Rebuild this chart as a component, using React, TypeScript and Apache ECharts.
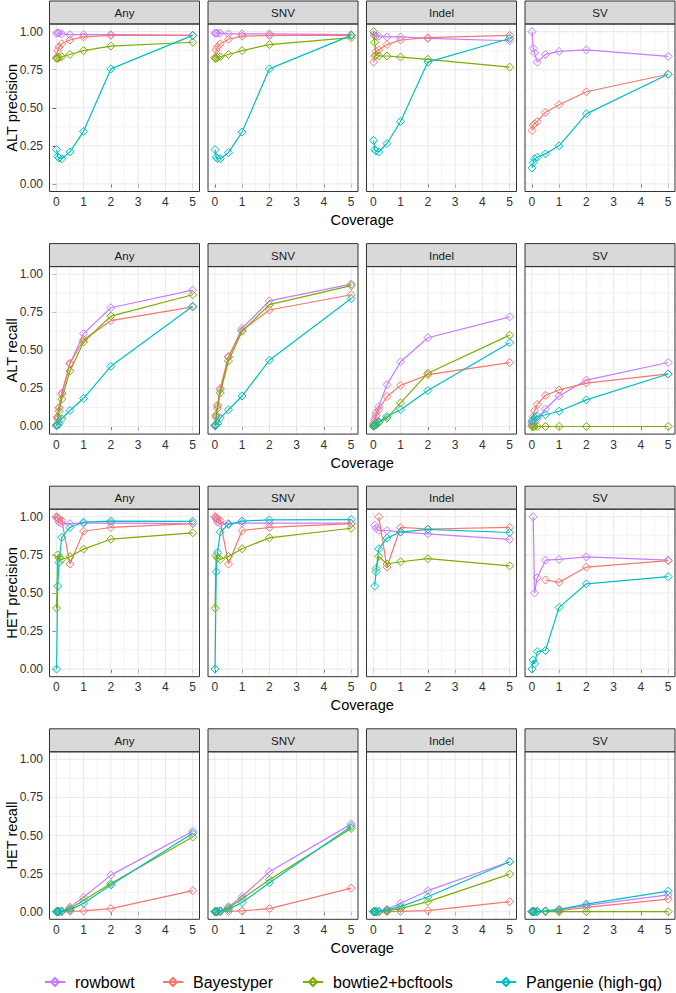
import React, { useEffect, useRef } from 'react';
import * as echarts from 'echarts';

const coverage = [0.01, 0.05, 0.1, 0.2, 0.5, 1, 2, 5];
const methods = ['rowbowt', 'Bayestyper', 'bowtie2+bcftools', 'Pangenie (high-gq)'];
const methodColors = ['#C77CFF', '#F8766D', '#7CAE00', '#00BFC4'];
const variantTypes = ['Any', 'SNV', 'Indel', 'SV'];
const metricLabels = ['ALT precision', 'ALT recall', 'HET precision', 'HET recall'];
const xTicks = [0, 1, 2, 3, 4, 5];
const yTicks = [0, 0.25, 0.5, 0.75, 1];
const xMinor = [0.5, 1.5, 2.5, 3.5, 4.5];
const yMinor = [0.125, 0.375, 0.625, 0.875];

const N = null;
// each panel: one row per method, in the order of `methods`
const altPrecisionAny = [
  [0.99, 0.99, 0.99, 0.985, 0.98, 0.98, 0.98, 0.975],
  [0.83, 0.875, 0.9, 0.92, 0.945, 0.965, 0.975, 0.975],
  [0.825, 0.825, 0.83, 0.835, 0.85, 0.875, 0.905, 0.93],
  [0.225, 0.18, 0.17, 0.165, 0.21, 0.345, 0.755, 0.975],
];
const altPrecisionSNV = [
  [0.99, 0.99, 0.99, 0.99, 0.985, 0.985, 0.985, 0.98],
  [0.83, 0.88, 0.9, 0.92, 0.95, 0.97, 0.975, 0.975],
  [0.825, 0.825, 0.83, 0.835, 0.85, 0.875, 0.915, 0.96],
  [0.225, 0.175, 0.165, 0.165, 0.205, 0.34, 0.755, 0.975],
];
const altPrecisionIndel = [
  [0.98, 0.975, 0.97, 0.97, 0.965, 0.965, 0.955, 0.94],
  [0.8, 0.84, 0.87, 0.88, 0.915, 0.945, 0.96, 0.975],
  [1.0, 0.93, 0.845, 0.84, 0.84, 0.833, 0.818, 0.767],
  [0.285, 0.225, 0.215, 0.21, 0.265, 0.41, 0.8, 0.955],
];
const altPrecisionSV = [
  [1.0, 0.89, 0.86, 0.8, 0.85, 0.87, 0.88, 0.837],
  [0.35, 0.385, 0.395, 0.41, 0.47, 0.52, 0.605, 0.72],
  [N, N, N, N, N, N, N, N],
  [0.105, 0.14, 0.165, 0.175, 0.197, 0.25, 0.46, 0.72],
];
const altRecallAny = [
  [0.01, 0.06, 0.12, 0.21, 0.41, 0.61, 0.78, 0.895],
  [0.01, 0.065, 0.125, 0.22, 0.415, 0.57, 0.695, 0.785],
  [0.005, 0.05, 0.1, 0.18, 0.365, 0.555, 0.725, 0.865],
  [0.005, 0.01, 0.02, 0.05, 0.105, 0.185, 0.395, 0.79],
];
const altRecallSNV = [
  [0.01, 0.07, 0.135, 0.24, 0.455, 0.645, 0.825, 0.935],
  [0.01, 0.075, 0.14, 0.25, 0.46, 0.63, 0.765, 0.865],
  [0.005, 0.06, 0.12, 0.22, 0.43, 0.625, 0.8, 0.925],
  [0.005, 0.01, 0.02, 0.055, 0.11, 0.2, 0.435, 0.84],
];
const altRecallIndel = [
  [0.01, 0.05, 0.09, 0.13, 0.275, 0.425, 0.583, 0.72],
  [0.02, 0.04, 0.07, 0.11, 0.197, 0.27, 0.34, 0.42],
  [0, 0.005, 0.01, 0.025, 0.055, 0.155, 0.35, 0.6],
  [0.005, 0.01, 0.02, 0.03, 0.066, 0.11, 0.236, 0.55],
];
const altRecallSV = [
  [0.01, 0.02, 0.03, 0.05, 0.115, 0.2, 0.305, 0.42],
  [0.025, 0.065, 0.105, 0.145, 0.205, 0.24, 0.285, 0.345],
  [0, 0, 0, 0, 0, 0, 0, 0],
  [0.035, 0.045, 0.06, 0.065, 0.077, 0.1, 0.175, 0.345],
];
const hetPrecisionAny = [
  [1.0, 0.985, 0.965, 0.955, 0.955, 0.958, 0.958, 0.955],
  [1.0, 0.995, 0.985, 0.975, 0.69, 0.905, 0.93, 0.955],
  [0.4, 0.75, 0.73, 0.72, 0.738, 0.788, 0.853, 0.895],
  [0.0, 0.545, 0.7, 0.865, 0.93, 0.965, 0.972, 0.97],
];
const hetPrecisionSNV = [
  [1.0, 0.985, 0.965, 0.955, 0.955, 0.958, 0.958, 0.958],
  [1.0, 0.995, 0.985, 0.975, 0.69, 0.91, 0.93, 0.955],
  [0.4, 0.745, 0.73, 0.72, 0.74, 0.79, 0.862, 0.925],
  [0.0, 0.64, 0.765, 0.9, 0.95, 0.972, 0.98, 0.982],
];
const hetPrecisionIndel = [
  [N, 0.945, 0.925, 0.91, 0.91, 0.9, 0.888, 0.852],
  [N, N, N, 1.0, 0.67, 0.93, 0.92, 0.93],
  [N, N, 0.66, 0.74, 0.69, 0.705, 0.725, 0.678],
  [N, 0.545, 0.64, 0.79, 0.86, 0.9, 0.918, 0.897],
];
const hetPrecisionSV = [
  [N, 1.0, 0.5, 0.6, 0.715, 0.72, 0.737, 0.715],
  [N, N, N, N, 0.585, 0.57, 0.67, 0.712],
  [N, N, N, N, N, N, N, N],
  [0.0, 0.06, 0.035, 0.115, 0.122, 0.405, 0.56, 0.607],
];
const hetRecallAny = [
  [0, 0, 0.002, 0.005, 0.03, 0.095, 0.24, 0.528],
  [0, 0, 0, 0, 0.002, 0.005, 0.02, 0.138],
  [0, 0, 0.001, 0.004, 0.02, 0.075, 0.185, 0.49],
  [0, 0, 0, 0.002, 0.012, 0.055, 0.175, 0.515],
];
const hetRecallSNV = [
  [0, 0, 0.002, 0.006, 0.033, 0.1, 0.262, 0.575],
  [0, 0, 0, 0, 0.002, 0.005, 0.02, 0.155],
  [0, 0, 0.001, 0.005, 0.025, 0.085, 0.21, 0.547],
  [0, 0, 0, 0.003, 0.015, 0.06, 0.19, 0.56],
];
const hetRecallIndel = [
  [0, 0, 0, 0.002, 0.015, 0.055, 0.138, 0.328],
  [0, 0, 0, 0, 0, 0.002, 0.007, 0.066],
  [0, 0, 0, 0.001, 0.005, 0.02, 0.066, 0.247],
  [0, 0, 0, 0.002, 0.01, 0.033, 0.098, 0.328],
];
const hetRecallSV = [
  [0, 0, 0, 0.002, 0.004, 0.012, 0.042, 0.11],
  [0, 0, 0, 0, 0.002, 0.006, 0.028, 0.083],
  [0, 0, 0, 0, 0, 0, 0, 0],
  [0, 0, 0, 0.002, 0.005, 0.015, 0.05, 0.135],
];

const panels = [
  [altPrecisionAny, altPrecisionSNV, altPrecisionIndel, altPrecisionSV],
  [altRecallAny, altRecallSNV, altRecallIndel, altRecallSV],
  [hetPrecisionAny, hetPrecisionSNV, hetPrecisionIndel, hetPrecisionSV],
  [hetRecallAny, hetRecallSNV, hetRecallIndel, hetRecallSV],
];

const FONT = '"Liberation Sans", Arial, Helvetica, sans-serif';
const PANEL_W = 150;
const PANEL_H = 167.5;
const STRIP_H = 23;
const colLeft = (c: number) => 49.5 + 158.5 * c;
const rowTop = (r: number) => 1 + 242.6 * r;
const legendLefts = [44, 162, 302, 495];

function buildOption() {
  const grids: any[] = [];
  const xAxes: any[] = [];
  const yAxes: any[] = [];
  const series: any[] = [];
  const graphics: any[] = [];

  const gridRows: number[][] = [];
  xMinor.forEach((x) => gridRows.push([x, -0.05, x, 1.05, 0.6]));
  yMinor.forEach((y) => gridRows.push([-0.25, y, 5.25, y, 0.6]));
  xTicks.forEach((x) => gridRows.push([x, -0.05, x, 1.05, 1.1]));
  yTicks.forEach((y) => gridRows.push([-0.25, y, 5.25, y, 1.1]));

  for (let r = 0; r < 4; r++) {
    for (let c = 0; c < 4; c++) {
      const i = r * 4 + c;
      const left = colLeft(c);
      const top = rowTop(r) + STRIP_H;
      grids.push({ left, top, width: PANEL_W, height: PANEL_H, show: true, backgroundColor: '#fff', borderWidth: 0 });
      xAxes.push({
        gridIndex: i, type: 'value', min: -0.25, max: 5.25,
        splitLine: { show: false }, axisLine: { show: false },
        axisTick: { show: true, length: 3.7, customValues: xTicks, lineStyle: { color: '#333333', width: 1 } },
        axisLabel: { show: true, customValues: xTicks, margin: 4.5, fontSize: 12, color: '#333333', fontFamily: FONT, formatter: (v: number) => String(Math.round(v)) },
      });
      yAxes.push({
        gridIndex: i, type: 'value', min: -0.05, max: 1.05,
        splitLine: { show: false }, axisLine: { show: false },
        axisTick: { show: c === 0, length: 3.7, customValues: yTicks, lineStyle: { color: '#333333', width: 1 } },
        axisLabel: { show: c === 0, customValues: yTicks, margin: 6.5, fontSize: 12, color: '#333333', fontFamily: FONT, formatter: (v: number) => v.toFixed(2) },
      });
      series.push({
        type: 'custom', xAxisIndex: i, yAxisIndex: i, silent: true, z: 1,
        data: gridRows,
        renderItem: (params: any, api: any) => {
          const p1 = api.coord([api.value(0), api.value(1)]);
          const p2 = api.coord([api.value(2), api.value(3)]);
          return { type: 'line', shape: { x1: p1[0], y1: p1[1], x2: p2[0], y2: p2[1] }, style: { stroke: '#EBEBEB', lineWidth: api.value(4) } };
        },
      });
      const vals = panels[r][c];
      methods.forEach((m, k) => {
        const data = coverage.map((x, j) => [x, vals[k][j]]).filter((p) => p[1] !== null);
        series.push({
          type: 'line', name: m, xAxisIndex: i, yAxisIndex: i, z: 3 + k,
          data, symbol: 'diamond', symbolSize: 8, showSymbol: true, showAllSymbol: true,
          lineStyle: { color: methodColors[k], width: 1.2 },
          itemStyle: { color: 'rgba(0,0,0,0)', borderColor: methodColors[k], borderWidth: 1 },
          emphasis: { disabled: true }, silent: true,
        });
      });
      // strip
      graphics.push({
        type: 'rect', z: 50, shape: { x: left, y: rowTop(r), width: PANEL_W, height: STRIP_H },
        style: { fill: '#D9D9D9', stroke: '#333333', lineWidth: 1 },
      });
      graphics.push({
        type: 'text', z: 51, x: left + PANEL_W / 2, y: rowTop(r) + STRIP_H / 2,
        style: { text: variantTypes[c], fontSize: 11.6, fontWeight: 'normal', fontFamily: FONT, fill: '#1A1A1A', align: 'center', verticalAlign: 'middle', textAlign: 'center', textVerticalAlign: 'middle' },
      });
      // panel border
      graphics.push({
        type: 'rect', z: 50, shape: { x: left, y: top, width: PANEL_W, height: PANEL_H },
        style: { fill: 'none', stroke: '#333333', lineWidth: 1 },
      });
    }
    // y title
    graphics.push({
      type: 'text', z: 51, x: 12, y: rowTop(r) + STRIP_H + PANEL_H / 2, rotation: Math.PI / 2,
      style: { text: metricLabels[r], fontSize: 14.6, fontWeight: 'normal', fontFamily: FONT, fill: '#000', align: 'center', verticalAlign: 'middle', textAlign: 'center', textVerticalAlign: 'middle' },
    });
    // x title
    graphics.push({
      type: 'text', z: 51, x: (colLeft(0) + colLeft(3) + PANEL_W) / 2, y: rowTop(r) + 219,
      style: { text: 'Coverage', fontSize: 14.6, fontWeight: 'normal', fontFamily: FONT, fill: '#000', align: 'center', verticalAlign: 'middle', textAlign: 'center', textVerticalAlign: 'middle' },
    });
  }

  const legends = methods.map((m, k) => ({
    data: [m], left: legendLefts[k], top: 974, itemWidth: 20, itemHeight: 10, itemGap: 0, padding: 0, selectedMode: false,
    textStyle: { fontSize: 16, color: '#000', fontFamily: FONT, padding: [0, 0, 0, 5] },
  }));

  return {
    animation: false,
    backgroundColor: '#fff',
    grid: grids,
    xAxis: xAxes,
    yAxis: yAxes,
    series,
    legend: legends,
    graphic: { elements: graphics },
  };
}

export default function App() {
  const ref = useRef<HTMLDivElement>(null);
  useEffect(() => {
    if (!ref.current) return;
    const chart = echarts.init(ref.current, undefined, { renderer: 'svg' });
    chart.setOption(buildOption() as any);
    return () => chart.dispose();
  }, []);
  return <div ref={ref} style={{ position: 'absolute', left: 0, top: 0, width: 676, height: 993, background: '#fff' }} />;
}
